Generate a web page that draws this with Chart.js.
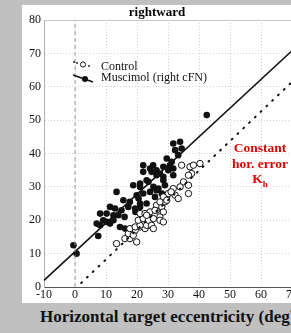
<!DOCTYPE html>
<html lang="en">
<head>
<meta charset="UTF-8">
<title>rightward</title>
<script src="https://cdn.jsdelivr.net/npm/chart.js@4.4.0/dist/chart.umd.min.js"></script>
<style>
    body {
        margin: 0;
        width: 291px;
        height: 333px;
        overflow: hidden;
        background: #c0c0c0;
        position: relative;
        font-family: "Liberation Serif", "DejaVu Serif", serif;
    }
    .panel {
        position: absolute;
        left: 22px;
        top: 5px;
        width: 310px;
        height: 298px;
        background: #fff;
    }
    .title {
        position: absolute;
        left: 157px;
        top: 4px;
        transform: translateX(-50%);
        font-weight: bold;
        font-size: 13px;
        white-space: nowrap;
    }
    .xlabel {
        position: absolute;
        left: 40px;
        top: 307px;
        font-weight: bold;
        font-size: 17px;
        white-space: nowrap;
        color: #111;
    }
    .note {
        position: absolute;
        left: 260px;
        transform: translateX(-50%);
        color: #e00000;
        font-weight: bold;
        font-size: 13.5px;
        white-space: nowrap;
        line-height: 15px;
    }
    .note sub { font-size: 9px; }
</style>
</head>
<body>
<div class="panel"><canvas id="myChart"></canvas></div>
<div class="title">rightward</div>
<div class="xlabel">Horizontal target eccentricity (deg)</div>
<div class="note" style="top:140px">Constant</div>
<div class="note" style="top:156px">hor. error</div>
<div class="note" style="top:171px">K<sub>h</sub></div>
<script>
// muscimol (right cFN), filled
const muscimolX = [-0.5, 0.5, 7.5, 7, 8.1, 10.2, 11.3, 12.4, 9.1, 14.5, 16.1, 18.3,
    8.1, 10.2, 12.4, 11.3, 12.9, 15, 17.2, 19.4, 15.6, 17.7, 21, 23.1,
    19.9, 22, 24.2, 25.8, 28, 13.4, 18.8, 21, 23.7, 25.3, 26.9, 29,
    22, 24.7, 26.3, 28.5, 27.4, 30.1, 31.7, 23.1, 28.5, 21, 26.3, 28.5, 21,
    22, 24.2, 26.3, 28.5, 30.6, 31.7, 29.6, 31.2, 31.7, 33.9, 32.3, 34.4, 33.3,
    42.5, 14, 16, 19.5, 25.2, 20.5];
const muscimolY = [12.5, 10, 15.3, 19, 18.5, 19.5, 19, 20, 20, 18, 17.5, 16,
    22, 22, 21.5, 24, 23.5, 23, 24, 23.5, 26, 25.5, 25, 25,
    27.5, 28, 28.5, 27, 28, 28.5, 30.5, 31, 31.5, 30, 29.5, 30.5,
    34.5, 34.5, 33.5, 33, 34, 35, 33.5, 32, 32, 30, 29, 26, 24,
    36.5, 35.5, 35, 36, 36.5, 35.5, 38.5, 37.5, 43, 43.5, 41, 41.5, 39.5,
    51.5, 21.5, 21, 22.5, 36.5, 26.5];

// control, open
const controlX = [13.4, 16.1, 17.7, 19.9, 18.3, 19.4, 21, 22.6, 22, 23.7,
    17.2, 18.8, 17.7, 19.4, 21, 23.1, 20.4, 22, 23.7, 25.3, 27.4,
    21, 22.6, 24.2, 26.3, 27.9, 29, 29.6, 24.7, 25.3, 23.1, 27.4, 28.5,
    26.3, 28, 25.8, 28.5, 30.1, 32.3, 33.3, 28.5, 29.6, 27.4,
    35, 36.6, 33.9, 31.7, 36.6, 37.6, 34.4, 37.1, 38.2, 40.3, 36.6, 31];
const controlY = [13, 14.5, 14.5, 13.5, 16, 17, 18, 17.5, 19, 18.5,
    16, 15.5, 17.5, 18, 18.5, 18.5, 20, 20.5, 20, 20.5, 21,
    22, 22, 22.5, 23, 24, 25.5, 27, 18.5, 17.5, 21.5, 20, 19.5,
    24.5, 24, 23, 22.5, 28, 27.5, 26.5, 27, 26, 25.5,
    31.5, 30.5, 30, 29.5, 28, 34, 36.5, 36, 36.5, 37, 33.5, 28.5];

// regression line (muscimol) and constant horizontal error line
const fitX = [-10, 80];
const fitY = [2, 79.4];
const errX = [2, 80];
const errY = [1.2, 70.3];
const zeroX = [0, 0];
const zeroY = [0, 80];

const xTicks = [-10, 0, 10, 20, 30, 40, 50, 60, 70, 80];
const yTicks = [0, 10, 20, 30, 40, 50, 60, 70, 80];

function pts(xs, ys) {
    return xs.map(function (x, i) { return { x: x, y: ys[i] }; });
}

const serif = '"Liberation Serif", "DejaVu Serif", serif';

// hand-made legend in the upper left, plus the solid top frame line
const legendPlugin = {
    id: 'cornerLegend',
    beforeDatasetsDraw(chart) {
        const a = chart.chartArea;
        const c = chart.ctx;
        c.save();
        c.strokeStyle = '#c8c8c8';
        c.lineWidth = 1;
        c.beginPath();
        c.moveTo(a.left, a.top + 0.5);
        c.lineTo(a.right, a.top + 0.5);
        c.stroke();
        c.restore();
    },
    afterDatasetsDraw(chart) {
        const c = chart.ctx;
        c.save();
        // Control: dotted with open circle
        c.fillStyle = '#111';
        [[52, 57], [55, 58], [67, 61]].forEach(function (p) {
            c.beginPath(); c.arc(p[0], p[1], 0.9, 0, Math.PI * 2); c.fill();
        });
        c.beginPath();
        c.arc(61, 59.5, 2.6, 0, Math.PI * 2);
        c.fillStyle = '#fff'; c.fill();
        c.strokeStyle = '#111'; c.lineWidth = 1; c.stroke();
        // Muscimol: solid with filled circle
        c.beginPath();
        c.moveTo(51, 70); c.lineTo(71, 77);
        c.lineWidth = 1.6; c.stroke();
        c.beginPath();
        c.arc(63, 74, 3, 0, Math.PI * 2);
        c.fillStyle = '#111'; c.fill();
        c.font = '12px ' + serif;
        c.textBaseline = 'middle';
        c.fillText('Control', 79, 62);
        c.fillText('Muscimol (right cFN)', 79, 73);
        c.restore();
    }
};

const ctx = document.getElementById('myChart').getContext('2d');
const myChart = new Chart(ctx, {
    type: 'scatter',
    data: {
        datasets: [{
            label: 'zero',
            type: 'line',
            data: pts(zeroX, zeroY),
            borderColor: '#9a9a9a',
            borderWidth: 1,
            borderDash: [4, 3],
            pointRadius: 0
        }, {
            label: 'Constant hor. error',
            type: 'line',
            data: pts(errX, errY),
            borderColor: '#111',
            borderWidth: 2,
            borderDash: [1, 7],
            borderCapStyle: 'round',
            pointRadius: 0
        }, {
            label: 'fit',
            type: 'line',
            data: pts(fitX, fitY),
            borderColor: '#111',
            borderWidth: 1.6,
            pointRadius: 0
        }, {
            label: 'Control',
            data: pts(controlX, controlY),
            backgroundColor: '#fff',
            borderColor: '#111',
            borderWidth: 1,
            pointRadius: 3.2
        }, {
            label: 'Muscimol (right cFN)',
            data: pts(muscimolX, muscimolY),
            backgroundColor: '#111',
            borderColor: '#111',
            borderWidth: 0,
            pointRadius: 3.3
        }]
    },
    options: {
        responsive: true,
        maintainAspectRatio: false,
        animation: false,
        layout: { padding: { top: 15, right: 9, left: 0, bottom: 0 } },
        plugins: {
            legend: { display: false },
            tooltip: { enabled: false }
        },
        scales: {
            x: {
                type: 'linear',
                min: -10,
                max: 80,
                afterBuildTicks: function (s) { s.ticks = xTicks.map(function (v) { return { value: v }; }); },
                afterFit: function (s) { s.height = 16; },
                ticks: { font: { family: serif, size: 12 }, color: '#111', padding: 1, maxRotation: 0 },
                grid: { color: '#d2d2d2', drawTicks: false, lineWidth: 1 },
                border: { color: '#555', width: 1, dash: [1, 2] }
            },
            y: {
                type: 'linear',
                min: 0,
                max: 80,
                afterBuildTicks: function (s) { s.ticks = yTicks.map(function (v) { return { value: v }; }); },
                afterFit: function (s) { s.width = 22; },
                ticks: { font: { family: serif, size: 12 }, color: '#111', padding: 3 },
                grid: { color: '#d2d2d2', drawTicks: false, lineWidth: 1 },
                border: { color: '#b0b0b0', width: 1, dash: [1, 2] }
            }
        }
    },
    plugins: [legendPlugin]
});
</script>
</body>
</html>
